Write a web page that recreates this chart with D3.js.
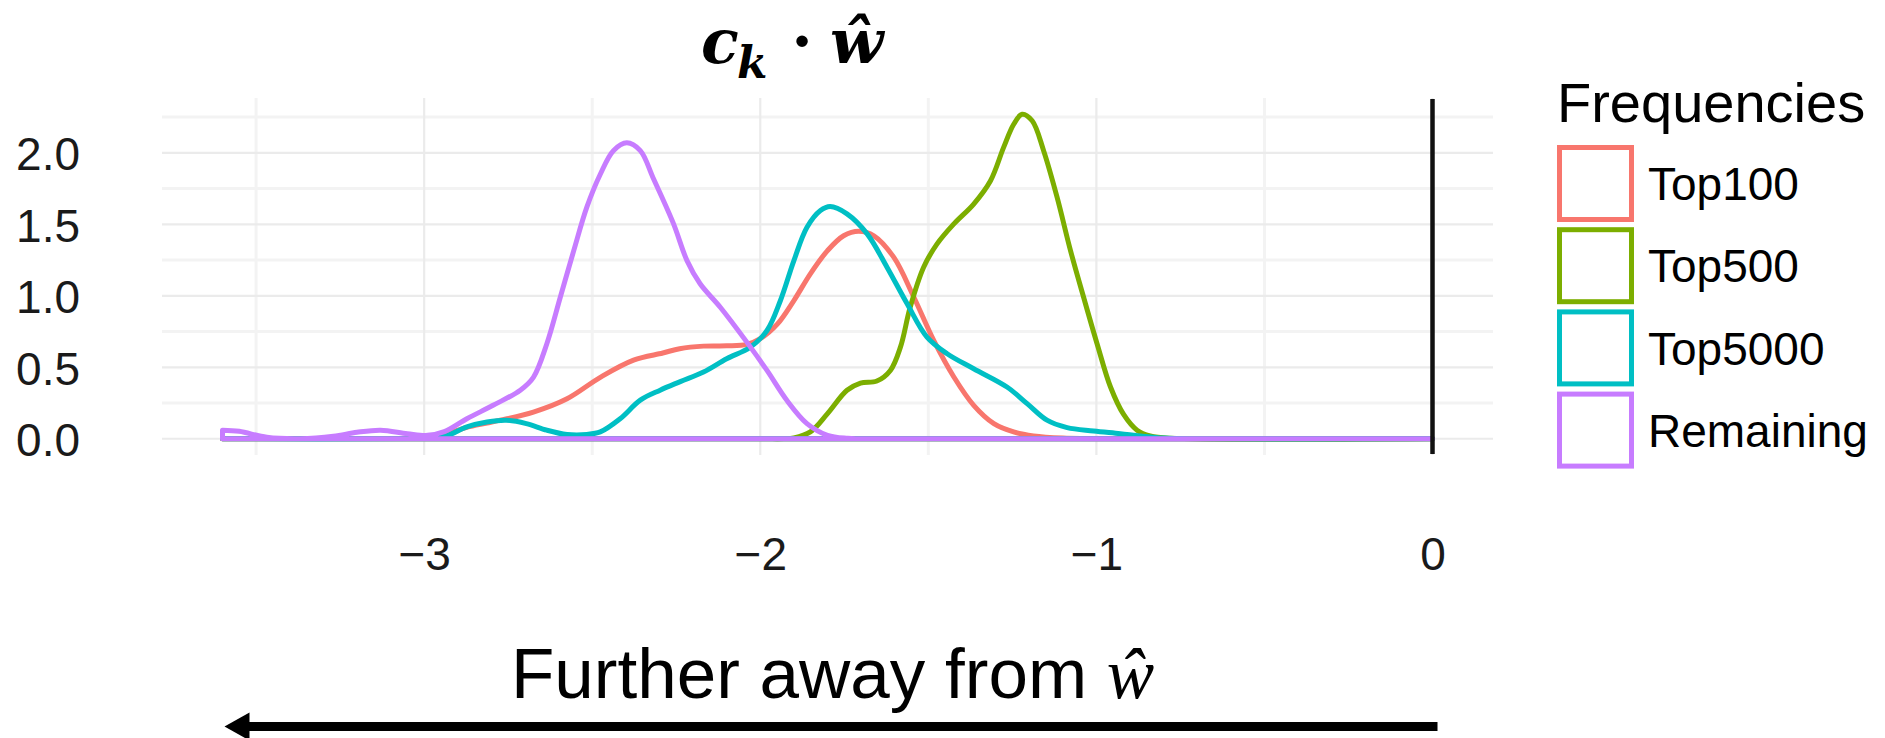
<!DOCTYPE html>
<html><head><meta charset="utf-8">
<script src="https://cdn.jsdelivr.net/npm/d3@7"></script>
<style>html,body{margin:0;padding:0;background:#fff;overflow:hidden}</style>
</head><body><svg id="c" width="1885" height="738"></svg>
<script>
// ---------- data ----------
const seriesNames = ["Top100", "Top500", "Top5000", "Remaining"];
const seriesColors = ["#F8766D", "#7CAE00", "#00BFC4", "#C77CFF"];

const top100X = [-3.6, -3.2, -3.05, -2.98, -2.933, -2.873, -2.813, -2.774, -2.675, -2.575, -2.476, -2.377, -2.29, -2.24, -2.169, -2.1, -2.04, -2.0, -1.95, -1.9, -1.851, -1.8, -1.752, -1.707, -1.662, -1.603, -1.543, -1.484, -1.424, -1.365, -1.305, -1.246, -1.187, -1.1, -0.9, 0];
const top100Y = [0, 0, 0.003, 0.012, 0.035, 0.08, 0.11, 0.13, 0.187, 0.28, 0.43, 0.55, 0.6, 0.63, 0.648, 0.65, 0.66, 0.70, 0.80, 0.967, 1.154, 1.316, 1.42, 1.451, 1.42, 1.27, 0.99, 0.688, 0.432, 0.234, 0.106, 0.048, 0.02, 0.005, 0, 0];

const top500X = [-3.6, -2.0, -1.93, -1.90, -1.851, -1.80, -1.742, -1.702, -1.653, -1.613, -1.583, -1.554, -1.514, -1.474, -1.424, -1.365, -1.315, -1.276, -1.246, -1.221, -1.191, -1.157, -1.117, -1.077, -1.038, -0.998, -0.958, -0.919, -0.879, -0.84, -0.78, 0];
const top500Y = [0, 0, 0, 0.006, 0.048, 0.176, 0.339, 0.39, 0.404, 0.478, 0.641, 0.92, 1.2, 1.363, 1.503, 1.642, 1.805, 2.038, 2.2, 2.27, 2.224, 2.015, 1.69, 1.316, 0.99, 0.665, 0.362, 0.17, 0.06, 0.02, 0.003, 0];

const top5000X = [-3.6, -3.05, -2.98, -2.933, -2.873, -2.813, -2.756, -2.696, -2.635, -2.575, -2.516, -2.476, -2.417, -2.357, -2.298, -2.238, -2.169, -2.1, -2.03, -1.98, -1.94, -1.90, -1.861, -1.821, -1.792, -1.742, -1.682, -1.623, -1.563, -1.504, -1.444, -1.365, -1.266, -1.206, -1.147, -1.087, -1.008, -0.929, -0.869, -0.8, -0.7, 0];
const top5000Y = [0, 0, 0.005, 0.02, 0.083, 0.117, 0.13, 0.106, 0.06, 0.03, 0.03, 0.048, 0.14, 0.27, 0.34, 0.40, 0.467, 0.56, 0.64, 0.757, 0.967, 1.246, 1.479, 1.596, 1.624, 1.573, 1.433, 1.20, 0.944, 0.711, 0.595, 0.49, 0.362, 0.246, 0.13, 0.078, 0.055, 0.036, 0.02, 0.005, 0, 0];

const remainingX = [-3.6, -3.55, -3.468, -3.37, -3.27, -3.2, -3.13, -3.05, -2.99, -2.94, -2.873, -2.795, -2.714, -2.675, -2.635, -2.595, -2.555, -2.516, -2.476, -2.437, -2.397, -2.357, -2.318, -2.258, -2.218, -2.179, -2.119, -2.04, -1.98, -1.921, -1.861, -1.8, -1.74, -1.6, 0];
const remainingY = [0.06, 0.052, 0.01, 0.0, 0.017, 0.045, 0.06, 0.036, 0.024, 0.05, 0.14, 0.234, 0.34, 0.43, 0.665, 0.99, 1.316, 1.62, 1.85, 2.015, 2.07, 2.015, 1.82, 1.503, 1.246, 1.084, 0.92, 0.676, 0.478, 0.269, 0.106, 0.024, 0.003, 0, 0];

const xTickValues = [-3, -2, -1, 0];
const xTickLabels = ["\u22123", "\u22122", "\u22121", "0"];
const xMinorValues = [-3.5, -2.5, -1.5, -0.5];
const yTickValues = [0, 0.5, 1, 1.5, 2];
const yTickLabels = ["0.0", "0.5", "1.0", "1.5", "2.0"];
const yMinorValues = [0.25, 0.75, 1.25, 1.75, 2.25];
const legendTitle = "Frequencies";
const xAxisNote = "Further away from ";
const hatW = "\u0175";

// ---------- layout ----------
const svg = d3.select("#c");
const panel = {left: 162, right: 1493, top: 98, bottom: 455};
const sansFont = "'Liberation Sans', Arial, Helvetica, sans-serif";
const serifFont = "'Liberation Serif', 'Times New Roman', serif";
const mathFont = "'DejaVu Serif', serif";

const seriesX = [top100X, top500X, top5000X, remainingX];
const seriesY = [top100Y, top500Y, top5000Y, remainingY];
const series = seriesNames.map((n, i) => ({
  name: n, color: seriesColors[i],
  pts: seriesX[i].map((x, j) => ({x: x, y: seriesY[i][j]}))
}));

const allX = seriesX.flat(), allY = seriesY.flat();
const xMin = d3.min(allX), xMax = d3.max(allX);
const yMax = d3.max(allY);
const xPad = (xMax - xMin) * 0.05, yPad = yMax * 0.05;

const x = d3.scaleLinear().domain([xMin - xPad, xMax + xPad]).range([panel.left, panel.right]);
const y = d3.scaleLinear().domain([-yPad, yMax + yPad]).range([panel.bottom, panel.top]);

svg.append("rect").attr("width", 1885).attr("height", 738).attr("fill", "#fff");

// grid
const grid = svg.append("g");
grid.selectAll(".hmin").data(yMinorValues).join("line")
  .attr("x1", panel.left).attr("x2", panel.right)
  .attr("y1", d => y(d)).attr("y2", d => y(d))
  .attr("stroke", "#f3f3f3").attr("stroke-width", 3);
grid.selectAll(".vmin").data(xMinorValues).join("line")
  .attr("y1", panel.top).attr("y2", panel.bottom)
  .attr("x1", d => x(d)).attr("x2", d => x(d))
  .attr("stroke", "#f3f3f3").attr("stroke-width", 3);
grid.selectAll(".hmaj").data(yTickValues).join("line")
  .attr("x1", panel.left).attr("x2", panel.right)
  .attr("y1", d => y(d)).attr("y2", d => y(d))
  .attr("stroke", "#ebebeb").attr("stroke-width", 2.2);
grid.selectAll(".vmaj").data(xTickValues).join("line")
  .attr("y1", panel.top).attr("y2", panel.bottom)
  .attr("x1", d => x(d)).attr("x2", d => x(d))
  .attr("stroke", "#ebebeb").attr("stroke-width", 2.2);

// density outlines
const area = d3.area().x(d => x(d.x)).y0(y(0)).y1(d => y(Math.max(0, d.y)))
  .curve(d3.curveCatmullRom.alpha(0.5));
svg.append("g").selectAll("path").data(series).join("path")
  .attr("d", d => area(d.pts))
  .attr("fill", "none").attr("stroke", d => d.color)
  .attr("stroke-width", 5).attr("stroke-linejoin", "round");

// vertical line at 0
svg.append("line").attr("x1", x(0)).attr("x2", x(0))
  .attr("y1", panel.top + 1).attr("y2", panel.bottom - 1)
  .attr("stroke", "#111").attr("stroke-width", 4.5);

// axes
const yAxis = svg.append("g").attr("transform", `translate(${panel.left},0)`)
  .call(d3.axisLeft(y).tickValues(yTickValues).tickFormat((d, i) => yTickLabels[i]).tickSize(0).tickPadding(82));
yAxis.select(".domain").remove();
yAxis.selectAll("text").attr("font-family", sansFont).attr("font-size", 46)
  .attr("fill", "#1a1a1a").attr("dy", "0.37em");

const xAxis = svg.append("g").attr("transform", `translate(0,${panel.bottom})`)
  .call(d3.axisBottom(x).tickValues(xTickValues).tickFormat((d, i) => xTickLabels[i]).tickSize(0));
xAxis.select(".domain").remove();
xAxis.selectAll("text").attr("font-family", sansFont).attr("font-size", 46)
  .attr("fill", "#1a1a1a").attr("y", 115).attr("dy", 0);

// title  c_k · ŵ
const tg = svg.append("g").attr("font-family", mathFont).attr("font-weight", "bold")
  .attr("font-style", "italic").attr("fill", "#000");
tg.append("text").attr("x", 701).attr("y", 63).attr("font-size", 62).text("c");
tg.append("text").attr("x", 737).attr("y", 78).attr("font-size", 44).text("k");
tg.append("text").attr("x", 802).attr("y", 63).attr("font-size", 62).attr("text-anchor", "middle")
  .attr("font-style", "normal").text("\u00B7");
tg.append("text").attr("x", 830).attr("y", 63).attr("font-size", 62).text(hatW);

// legend
svg.append("text").attr("x", 1557).attr("y", 122).attr("font-family", sansFont)
  .attr("font-size", 56).attr("fill", "#000").text(legendTitle);
const leg = svg.append("g").selectAll("g").data(series).join("g")
  .attr("transform", (d, i) => `translate(1557,${183.5 + i * 82.2})`);
leg.append("rect").attr("x", 2.5).attr("y", -36).attr("width", 72).attr("height", 72)
  .attr("fill", "#fff").attr("stroke", d => d.color).attr("stroke-width", 5);
leg.append("text").attr("x", 91).attr("y", 16.7).attr("font-family", sansFont)
  .attr("font-size", 46).attr("fill", "#000").text(d => d.name);

// bottom note and arrow
const note = svg.append("text").attr("x", 511).attr("y", 698).attr("font-family", sansFont)
  .attr("font-size", 71).attr("fill", "#000");
note.append("tspan").text(xAxisNote);
note.append("tspan").attr("font-family", serifFont).attr("font-style", "italic").text(hatW);

const arrowY = 726.5;
const tipX = x(xMin) + 2, endX = x(0) + 5;
svg.append("line").attr("x1", tipX + 20).attr("x2", endX).attr("y1", arrowY).attr("y2", arrowY)
  .attr("stroke", "#000").attr("stroke-width", 9);
svg.append("path").attr("d", `M${tipX},${arrowY} L${tipX + 25},${arrowY - 14} L${tipX + 25},${arrowY + 14} Z`)
  .attr("fill", "#000");
</script></body></html>
